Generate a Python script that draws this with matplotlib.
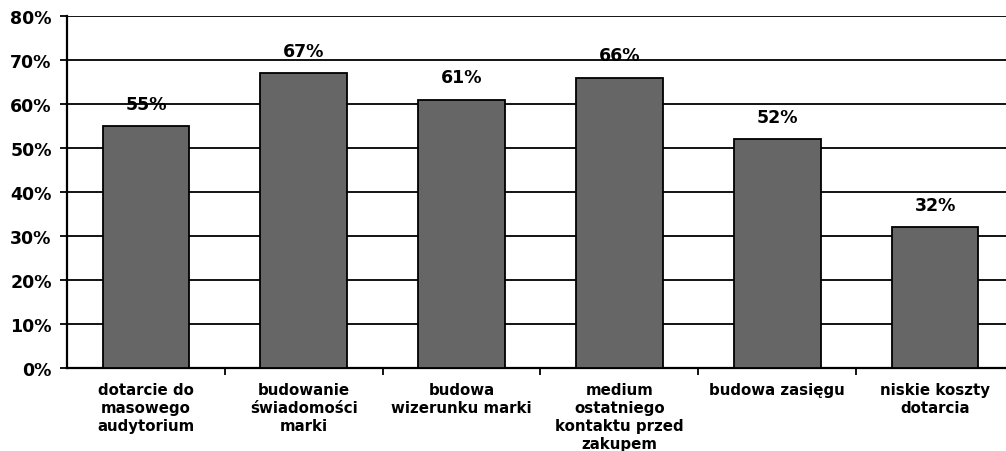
import numpy as np
import matplotlib.pyplot as plt
from matplotlib.ticker import FixedLocator

categories = ["dotarcie do\nmasowego\naudytorium",
              "budowanie\nświadomości\nmarki",
              "budowa\nwizerunku marki",
              "medium\nostatniego\nkontaktu przed\nzakupem",
              "budowa zasięgu",
              "niskie koszty\ndotarcia"]
values = [55, 67, 61, 66, 52, 32]
value_labels = ["55%", "67%", "61%", "66%", "52%", "32%"]
yticks = [0, 10, 20, 30, 40, 50, 60, 70, 80]

plt.rcParams['font.family'] = ['DejaVu Sans']

fig = plt.figure(figsize=(10.06, 4.52), dpi=100)
ax = fig.add_axes([67 / 1006, (452 - 369) / 452, (1014 - 67) / 1006, 352 / 452])

x = np.arange(len(values))
ax.bar(x, values, width=0.55, color='#666666', edgecolor='black', linewidth=1.3, zorder=3)

for xi, v, lab in zip(x, values, value_labels):
    ax.text(xi, v + 3, lab, ha='center', va='bottom', fontsize=12.5, fontweight='bold')

ax.set_xlim(-0.5, len(values) - 0.5)
ax.set_ylim(0, 80)
ax.set_yticks(yticks)
ax.set_yticklabels([f"{t}%" for t in yticks], fontsize=12.5, fontweight='bold')
ax.yaxis.grid(True, color='black', linewidth=1.3, zorder=0)

ax.set_xticks(x)
ax.set_xticklabels(categories, fontsize=10.8, fontweight='bold', linespacing=1.25)
ax.tick_params(axis='x', which='major', length=0, pad=10)
ax.xaxis.set_minor_locator(FixedLocator(np.arange(0.5, len(values) - 0.5, 1)))
ax.tick_params(axis='x', which='minor', length=5, width=1.3, direction='out')
ax.tick_params(axis='y', length=5, width=1.3, direction='out', pad=6)

for s in ['top', 'right']:
    ax.spines[s].set_visible(False)
ax.spines['left'].set_linewidth(1.6)
ax.spines['bottom'].set_linewidth(1.6)

fig.savefig('out.png', dpi=100)
